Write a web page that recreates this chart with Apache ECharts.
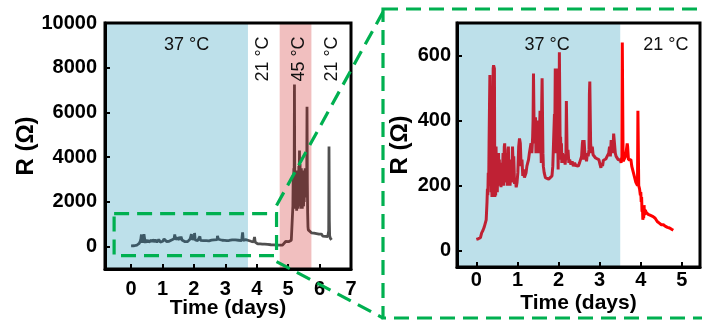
<!DOCTYPE html>
<html><head><meta charset="utf-8">
<script src="https://cdn.jsdelivr.net/npm/echarts@6/dist/echarts.min.js"></script>
<style>html,body{margin:0;padding:0;background:#fff}#c{width:702px;height:322px}</style>
</head><body><div id="c"></div>
<script>
// ---- data (time in days, resistance in ohm) ----
const zoomDays = [0.00,0.05,0.10,0.13,0.16,0.19,0.22,0.24,0.26,0.27,0.28,0.29,0.30,0.31,0.32,0.33,0.34,0.35,0.36,0.37,0.38,0.39,0.40,0.41,0.42,0.43,0.44,0.45,0.46,0.47,0.48,0.49,0.50,0.51,0.52,0.53,0.54,0.55,0.56,0.57,0.58,0.60,0.62,0.63,0.65,0.66,0.68,0.69,0.70,0.71,0.72,0.74,0.75,0.77,0.78,0.79,0.80,0.82,0.84,0.86,0.88,0.89,0.90,0.91,0.93,0.95,0.97,0.99,1.01,1.03,1.05,1.07,1.09,1.11,1.13,1.15,1.17,1.19,1.21,1.23,1.25,1.27,1.29,1.31,1.33,1.35,1.37,1.38,1.39,1.40,1.41,1.42,1.43,1.44,1.45,1.46,1.47,1.48,1.49,1.50,1.52,1.53,1.55,1.56,1.57,1.58,1.59,1.60,1.61,1.62,1.63,1.65,1.68,1.72,1.76,1.80,1.84,1.86,1.88,1.90,1.91,1.92,1.93,1.94,1.95,1.96,1.97,1.98,1.99,2.00,2.01,2.02,2.03,2.04,2.05,2.06,2.07,2.08,2.10,2.12,2.14,2.16,2.18,2.19,2.20,2.21,2.23,2.25,2.27,2.30,2.33,2.36,2.39,2.42,2.45,2.48,2.51,2.54,2.56,2.58,2.59,2.60,2.62,2.64,2.66,2.68,2.70,2.72,2.74,2.75,2.76,2.77,2.78,2.80,2.82,2.84,2.86,2.90,2.94,2.98,3.01,3.03,3.05,3.07,3.09,3.12,3.15,3.18,3.20,3.22,3.24,3.26,3.28,3.30,3.32,3.34,3.36,3.38,3.40,3.42,3.45,3.48,3.50,3.52,3.54,3.55,3.56,3.57,3.59,3.61,3.63,3.65,3.67,3.68,3.70,3.72,3.74,3.76,3.78,3.80,3.82,3.84,3.86,3.88,3.90,3.92,3.93,3.94,3.95,3.97,3.99,4.00,4.01,4.02,4.03,4.04,4.05,4.06,4.07,4.08,4.09,4.11,4.13,4.15,4.18,4.21,4.25,4.30,4.35,4.40,4.45,4.50,4.55,4.60,4.65,4.70,4.75,4.79];
const zoomResistance = [35,37,40,55,62,72,78,95,150,190,170,240,200,330,440,540,545,300,180,250,165,310,420,560,570,575,560,165,230,170,320,200,290,180,260,210,300,220,280,200,250,195,270,220,300,200,320,330,240,300,210,290,200,310,320,230,280,200,250,210,320,325,250,290,205,220,195,210,240,320,345,330,260,280,230,250,225,222,240,260,270,280,300,300,330,300,350,400,545,550,330,390,340,410,300,360,320,400,300,310,380,340,430,300,330,270,450,530,525,300,260,240,225,220,220,225,230,260,340,420,380,560,565,300,480,560,300,350,250,420,330,610,615,300,350,280,330,270,300,270,290,265,300,460,465,280,310,270,280,265,275,260,270,262,268,260,270,265,290,330,340,280,340,300,290,275,300,290,310,480,520,520,330,300,320,295,290,285,285,280,265,255,270,260,278,275,282,290,285,300,320,290,340,330,300,360,362,300,290,285,280,285,280,270,290,640,640,275,280,270,290,310,330,320,280,285,275,280,260,250,240,230,220,210,215,200,430,425,200,190,170,180,150,165,120,140,95,130,100,140,110,125,118,120,112,110,108,105,100,90,85,80,80,75,72,70,66,63];
const tailDays = [4.82,4.85,4.88,4.92,4.95,4.98,5.01,5.04,5.07,5.10,5.12,5.14,5.15,5.16,5.17,5.18,5.19,5.20,5.21,5.22,5.23,5.24,5.25,5.26,5.27,5.28,5.29,5.30,5.31,5.32,5.33,5.34,5.35,5.36,5.37,5.38,5.39,5.40,5.41,5.42,5.43,5.44,5.45,5.46,5.47,5.48,5.49,5.50,5.51,5.52,5.53,5.54,5.55,5.56,5.57,5.58,5.59,5.60,5.61,5.62,5.63,5.64,5.66,5.70,5.74,5.78,5.82,5.86,5.90,5.94,5.98,6.02,6.06,6.10,6.14,6.18,6.22,6.26,6.29,6.30,6.31,6.32,6.34,6.36,6.38];
const tailResistance = [70,100,150,230,200,250,220,270,280,290,300,320,1800,3200,2000,3500,2200,7250,2600,3400,1700,3000,2000,3300,1600,2900,1900,3400,1700,3100,2300,3600,2000,4300,2100,3700,1800,3300,1700,3500,2000,3100,1700,3400,1900,3000,1800,3300,2000,3100,2400,3500,2200,3200,2500,3300,2800,6250,2900,1500,900,750,720,680,620,560,600,520,580,500,560,480,560,470,540,460,520,450,700,4480,1200,500,380,450,300];

// temperature phases (days)
const fullWarmPhase = [-0.83, 3.72];   // 37 °C
const fullHotPhase = [4.73, 5.74];     // 45 °C
const zoomWarmPhase = [-0.47, 3.5];    // 37 °C
// tick labels
const fullTickDays = [0,1,2,3,4,5,6,7];
const fullTickR = [0,2000,4000,6000,8000,10000];
const zoomTickDays = [0,1,2,3,4,5];
const zoomTickR = [0,200,400,600];
// zoomed window shown on the full chart (data coords)
const zoomWindowDays = [-0.54, 4.63];
const zoomWindowR = [-400, 1480];

const zoomData = zoomDays.map((d,i)=>[d, zoomResistance[i]]);
const fullData = zoomData.concat(tailDays.map((d,i)=>[d, tailResistance[i]]));

const FONT = 'Liberation Sans, Arial, sans-serif';
const chart = echarts.init(document.getElementById('c'));

function xAx(gi, min, max, ticks, margin, gap) {
  return {type:'value', gridIndex:gi, min, max, z:10,
    name:'Time (days)', nameLocation:'middle', nameGap:gap, nameMoveOverlap:false,
    nameTextStyle:{fontFamily:FONT, fontWeight:'bold', fontSize:21, color:'#000'},
    axisLine:{show:true, onZero:false, lineStyle:{color:'#000', width:3}},
    axisTick:{show:true, inside:true, length:5, lineStyle:{color:'#000', width:2}, customValues:ticks},
    axisLabel:{show:true, customValues:ticks, formatter:v=>String(v), margin, fontFamily:FONT, fontWeight:'bold', fontSize:20, color:'#000'},
    splitLine:{show:false}};
}
function yAx(gi, min, max, ticks, margin, gap) {
  return {type:'value', gridIndex:gi, min, max, z:10,
    name:'R (Ω)', nameLocation:'middle', nameGap:gap, nameRotate:90, nameMoveOverlap:false,
    nameTextStyle:{fontFamily:FONT, fontWeight:'bold', fontSize:24, color:'#000'},
    axisLine:{show:true, onZero:false, lineStyle:{color:'#000', width:3}},
    axisTick:{show:true, inside:true, length:5, lineStyle:{color:'#000', width:2}, customValues:ticks},
    axisLabel:{show:true, customValues:ticks, formatter:v=>String(v), margin, fontFamily:FONT, fontWeight:'bold', fontSize:20, color:'#000'},
    splitLine:{show:false}};
}
const mpLabel = {show:true, position:'inside', formatter:p=>p.name, color:'#111', fontFamily:FONT, fontSize:18};

chart.setOption({
  animation:false,
  grid:[
    {left:105, top:23, width:246, height:246, show:true, z:10, borderColor:'#000', borderWidth:3, backgroundColor:'transparent', containLabel:false, outerBoundsMode:'none'},
    {left:457, top:23, width:243, height:244, show:true, z:10, borderColor:'#000', borderWidth:3, backgroundColor:'transparent', containLabel:false, outerBoundsMode:'none'}
  ],
  xAxis:[xAx(0,-0.83,7,fullTickDays,10,29), xAx(1,-0.47,5.44,zoomTickDays,3,26)],
  yAxis:[yAx(0,-1000,10000,fullTickR,8,67), yAx(1,-50,700,zoomTickR,6,45)],
  visualMap:[
    {type:'piecewise', show:false, seriesIndex:0, dimension:0, pieces:[
      {gte:-1, lt:fullWarmPhase[1], color:'#3d5966'},
      {gte:fullWarmPhase[1], lt:fullHotPhase[0], color:'#505050'},
      {gte:fullHotPhase[0], lt:fullHotPhase[1], color:'#6a3a3a'},
      {gte:fullHotPhase[1], lte:8, color:'#505050'}]},
    {type:'piecewise', show:false, seriesIndex:1, dimension:0, pieces:[
      {gte:-1, lt:zoomWarmPhase[1], color:'#bf2134'},
      {gte:zoomWarmPhase[1], lte:6, color:'#ff0000'}]}
  ],
  series:[
    {type:'line', xAxisIndex:0, yAxisIndex:0, data:fullData, symbol:'none', showSymbol:false,
      lineStyle:{width:2.8},
      markArea:{silent:true, data:[
        [{xAxis:fullWarmPhase[0], itemStyle:{color:'#bde0ea'}},{xAxis:fullWarmPhase[1]}],
        [{xAxis:fullHotPhase[0], itemStyle:{color:'#f1bfbf'}},{xAxis:fullHotPhase[1]}]]},
      markPoint:{symbol:'circle', symbolSize:1, silent:true, itemStyle:{color:'rgba(0,0,0,0)'}, label:mpLabel, data:[
        {name:'37 °C', coord:[1.77, 9030]},
        {name:'21 °C', coord:[4.19, 8390], label:{rotate:90}},
        {name:'45 °C', coord:[5.33, 8390], label:{rotate:90}},
        {name:'21 °C', coord:[6.4, 8390], label:{rotate:90}}]}
    },
    {type:'line', xAxisIndex:1, yAxisIndex:1, data:zoomData, symbol:'none', showSymbol:false,
      lineStyle:{width:3},
      markArea:{silent:true, data:[
        [{xAxis:zoomWarmPhase[0], itemStyle:{color:'#bde0ea'}},{xAxis:zoomWarmPhase[1]}]]},
      markPoint:{symbol:'circle', symbolSize:1, silent:true, itemStyle:{color:'rgba(0,0,0,0)'}, label:mpLabel, data:[
        {name:'37 °C', coord:[1.72, 631]},
        {name:'21 °C', coord:[4.61, 631]}]}
    }
  ]
});

const tl = chart.convertToPixel({gridIndex:0}, [zoomWindowDays[0], zoomWindowR[1]]);
const br = chart.convertToPixel({gridIndex:0}, [zoomWindowDays[1], zoomWindowR[0]]);
const dash = {fill:'none', stroke:'#00b050', lineWidth:3.2, lineDash:[15,8]};
chart.setOption({graphic:[
  {type:'rect', z:100, shape:{x:tl[0], y:tl[1], width:br[0]-tl[0], height:br[1]-tl[1]}, style:dash},
  {type:'rect', z:100, shape:{x:383, y:9, width:330, height:309}, style:dash},
  {type:'line', z:100, shape:{x1:br[0], y1:tl[1]-8, x2:383, y2:12}, style:dash},
  {type:'line', z:100, shape:{x1:br[0], y1:br[1]+6, x2:383, y2:318}, style:dash}
]});
</script></body></html>
